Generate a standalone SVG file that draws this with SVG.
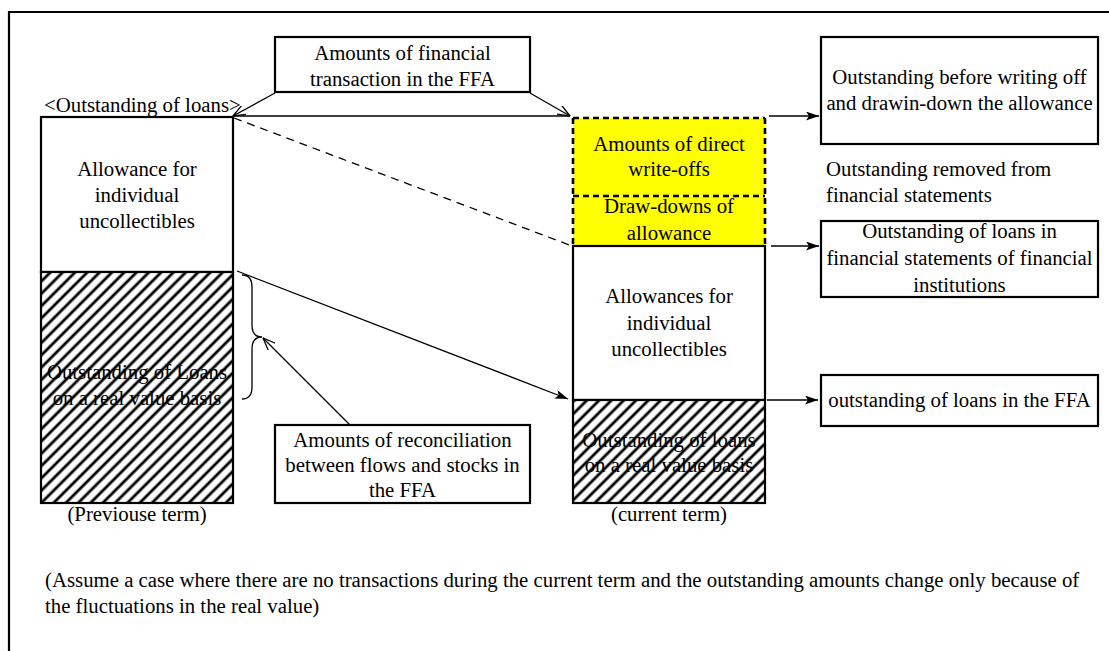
<svg xmlns="http://www.w3.org/2000/svg" width="1109" height="651" viewBox="0 0 1109 651" font-family="'Liberation Serif', 'Times New Roman', serif">
<style>
text{font-family:"Liberation Serif","Times New Roman",serif;font-size:20.8px;fill:#000}
.c{text-anchor:middle}
.box{fill:#fff;stroke:#000;stroke-width:2.2}
.hb{fill:url(#hatch);stroke:#000;stroke-width:2.2}
.ln{fill:none;stroke:#000;stroke-width:1.3}
.dash{fill:none;stroke:#000;stroke-width:2.6;stroke-dasharray:6 4}
</style>
<defs>
<pattern id="hatch" patternUnits="userSpaceOnUse" width="8.7" height="8.7" patternTransform="rotate(45)">
<rect width="8.7" height="8.7" fill="#fff"/>
<line x1="2" y1="0" x2="2" y2="8.7" stroke="#000" stroke-width="2.8"/>
</pattern>
<marker id="open" viewBox="0 0 13 10" refX="12.5" refY="5" markerWidth="13" markerHeight="10" orient="auto" markerUnits="userSpaceOnUse">
<path d="M0,0 L12.5,5 L0,10" fill="none" stroke="#000" stroke-width="1.3"/>
</marker>
<marker id="solid" viewBox="0 0 13 9" refX="13" refY="4.5" markerWidth="13" markerHeight="9" orient="auto" markerUnits="userSpaceOnUse">
<path d="M0,0 L13,4.5 L0,9 L3,4.5 z" fill="#000"/>
</marker>
</defs>
<rect width="1109" height="651" fill="#fff"/>
<path id="frame" d="M9,651 V12 H1109" fill="none" stroke="#000" stroke-width="2.2"/>

<g id="top-box">
<rect class="box" x="275" y="37" width="255" height="55"/>
<text class="c" x="402.5" y="60">Amounts of financial</text>
<text class="c" x="402.5" y="86">transaction in the FFA</text>
</g>

<g id="outstanding-label">
<text x="44" y="112">&lt;Outstanding of loans&gt;</text>
</g>

<g id="previous-term">
<rect class="box" x="41" y="117" width="192" height="155"/>
<rect class="hb" x="41" y="272" width="192" height="231"/>
<text class="c" x="137" y="176">Allowance for</text>
<text class="c" x="137" y="202">individual</text>
<text class="c" x="137" y="228">uncollectibles</text>
<text class="c" x="137" y="379">Outstanding of Loans</text>
<text class="c" x="137" y="405">on a real value basis</text>
<text class="c" x="137" y="521">(Previouse term)</text>
</g>

<g id="current-term">
<rect x="573" y="118" width="192" height="128" fill="#ffff00"/>
<path class="dash" d="M573,118 H765 M573,196 H765 M573,118 V246 M765,118 V246"/>
<rect class="box" x="573" y="246" width="192" height="154"/>
<rect class="hb" x="573" y="400" width="192" height="103"/>
<text class="c" x="669" y="151">Amounts of direct</text>
<text class="c" x="669" y="176">write-offs</text>
<text class="c" x="669" y="213">Draw-downs of</text>
<text class="c" x="669" y="240">allowance</text>
<text class="c" x="669" y="303">Allowances for</text>
<text class="c" x="669" y="330">individual</text>
<text class="c" x="669" y="356">uncollectibles</text>
<text class="c" x="669" y="447">Outstanding of loans</text>
<text class="c" x="669" y="472">on a real value basis</text>
<text class="c" x="669" y="521">(current term)</text>
</g>

<g id="before-writeoff">
<rect class="box" x="821" y="37" width="277" height="107"/>
<text class="c" x="959.5" y="84">Outstanding before writing off</text>
<text class="c" x="959.5" y="110">and drawin-down the allowance</text>
</g>

<g id="removed-label">
<text x="826" y="176">Outstanding removed from</text>
<text x="826" y="202">financial statements</text>
</g>

<g id="fs-outstanding">
<rect class="box" x="821" y="221" width="277" height="76"/>
<text class="c" x="959.5" y="238">Outstanding of loans in</text>
<text class="c" x="959.5" y="265">financial statements of financial</text>
<text class="c" x="959.5" y="292">institutions</text>
</g>

<g id="ffa-outstanding">
<rect class="box" x="821" y="375" width="277" height="51"/>
<text class="c" x="959.5" y="407">outstanding of loans in the FFA</text>
</g>

<g id="reconciliation">
<rect class="box" x="275" y="425" width="255" height="78"/>
<text class="c" x="402.5" y="447">Amounts of reconciliation</text>
<text class="c" x="402.5" y="472">between flows and stocks in</text>
<text class="c" x="402.5" y="497">the FFA</text>
</g>

<g id="footnote">
<text x="45" y="587">(Assume a case where there are no transactions during the current term and the outstanding amounts change only because of</text>
<text x="45" y="613">the fluctuations in the real value)</text>
</g>

<g id="connectors">
<line class="ln" x1="275" y1="93" x2="233" y2="116" marker-end="url(#open)"/>
<line class="ln" x1="530" y1="93" x2="570" y2="116" marker-end="url(#open)"/>
<line class="ln" x1="233" y1="116" x2="570" y2="116"/>
<line class="ln" x1="234" y1="118" x2="572" y2="246" stroke-dasharray="8 6"/>
<line class="ln" x1="237" y1="271" x2="568" y2="399" marker-end="url(#solid)"/>
<path class="ln" d="M242,275 Q252,275 252,287 V325 Q252,337 262,337 Q252,337 252,349 V387 Q252,399 242,399"/>
<line class="ln" x1="350" y1="425" x2="263" y2="338" marker-end="url(#open)"/>
<line class="ln" x1="769" y1="116" x2="819" y2="116" marker-end="url(#solid)"/>
<line class="ln" x1="771" y1="246" x2="819" y2="246" marker-end="url(#solid)"/>
<line class="ln" x1="767" y1="400" x2="818" y2="400" marker-end="url(#solid)"/>
</g>
</svg>
